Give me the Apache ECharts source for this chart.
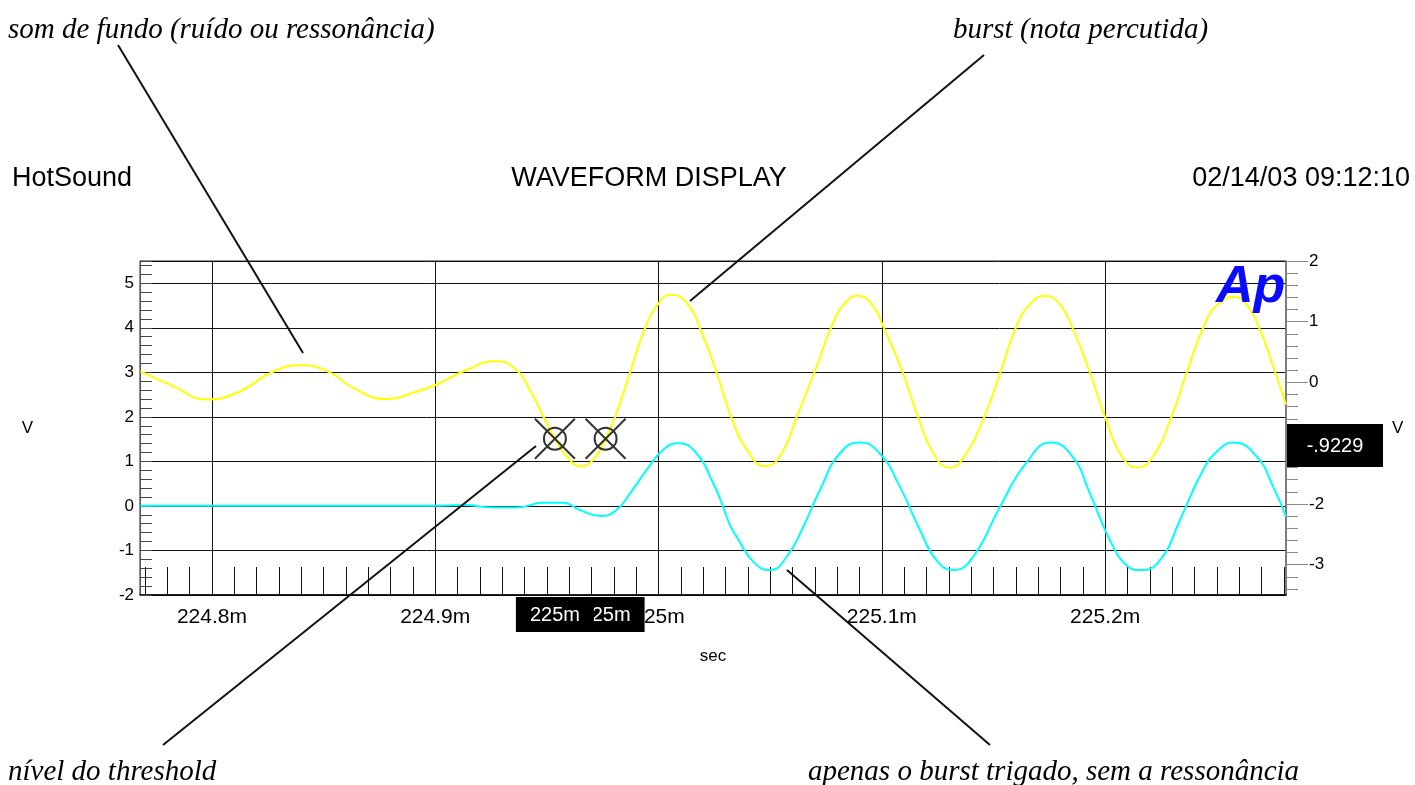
<!DOCTYPE html>
<html>
<head>
<meta charset="utf-8">
<title>Waveform display</title>
<script src="https://cdn.jsdelivr.net/npm/echarts@6/dist/echarts.min.js"></script>
<style>
html, body { margin: 0; padding: 0; background: #fff; }
#chart { width: 1415px; height: 785px; }
</style>
</head>
<body>
<div id="chart"></div>
<script>
// channel A (yellow, left axis): time in ms, volts
var timeA = [224.768, 224.7827, 224.7976, 224.8125, 224.8267, 224.8402, 224.8528, 224.8633, 224.8782, 224.8901,
    224.9021, 224.9125, 224.9275, 224.9357, 224.9424, 224.9491, 224.9536, 224.9588, 224.9651, 224.9708,
    224.9763, 224.9812, 224.9872, 224.9931, 224.9991, 225.0054, 225.0126, 225.0200, 225.0260, 225.0335,
    225.0395, 225.0476, 225.0544, 225.0626, 225.0708, 225.0782, 225.0842, 225.0894, 225.0962, 225.1006,
    225.1089, 225.1156, 225.1230, 225.1305, 225.1365, 225.1454, 225.1529, 225.1604, 225.1663, 225.1730,
    225.1798, 225.1857, 225.1932, 225.2004, 225.2074, 225.2144, 225.2215, 225.2298, 225.2365, 225.2455,
    225.2514, 225.2574, 225.2634, 225.2693, 225.2753, 225.2810];
var voltsA = [3.02, 2.69, 2.39, 2.57, 3.00, 3.16, 3.00, 2.65, 2.40, 2.54,
    2.76, 3.02, 3.25, 3.08, 2.61, 1.94, 1.51, 1.12, 0.89, 1.04,
    1.51, 2.09, 2.99, 3.88, 4.48, 4.74, 4.56, 3.81, 2.99, 1.87,
    1.27, 0.89, 1.12, 2.09, 3.13, 4.11, 4.59, 4.72, 4.48, 4.03,
    3.06, 2.09, 1.19, 0.86, 1.08, 1.94, 2.97, 4.05, 4.52, 4.72,
    4.52, 3.96, 2.99, 1.94, 1.12, 0.86, 1.12, 2.01, 2.99, 4.18,
    4.56, 4.69, 4.52, 3.96, 3.13, 2.28];

// channel B (cyan, right axis)
var timeB = [224.768, 224.817, 224.8618, 224.8976, 224.9125, 224.9260, 224.9365, 224.9484, 224.9573, 224.9648,
    224.9741, 224.9812, 224.9872, 224.9947, 225.0021, 225.0088, 225.0171, 225.0245, 225.0275, 225.0320,
    225.0350, 225.0424, 225.0499, 225.0574, 225.0648, 225.0723, 225.0812, 225.0902, 225.0991, 225.1081,
    225.1171, 225.1245, 225.1320, 225.1409, 225.1529, 225.1646, 225.1757, 225.1854, 225.1932, 225.2022,
    225.2096, 225.2159, 225.2245, 225.2335, 225.2439, 225.2514, 225.2574, 225.2679, 225.2753, 225.2810];
var voltsB = [-2.03, -2.03, -2.03, -2.03, -2.02, -2.06, -2.06, -1.98, -1.98, -2.10,
    -2.20, -2.10, -1.83, -1.44, -1.11, -1.00, -1.17, -1.66, -1.91, -2.35,
    -2.54, -2.95, -3.09, -2.87, -2.38, -1.77, -1.17, -0.99, -1.17, -1.72,
    -2.43, -2.93, -3.09, -2.87, -2.05, -1.33, -0.99, -1.22, -1.83, -2.60,
    -3.01, -3.09, -2.93, -2.27, -1.44, -1.09, -0.99, -1.22, -1.72, -2.21];

// trigger cursors
var cursorTime = [224.9536, 224.9763];
var cursorLevel = 1.51;
var readout = '-.9229';

var xMin = 224.7678, xMax = 225.281;
var xMajorTicks = [224.8, 224.9, 225.0, 225.1, 225.2];
var rightMajorTicks = [-3, -2, -1, 0, 1, 2];

var xMinorTicks = [];
for (var k = 22477; k <= 22528; k++) { xMinorTicks.push(k / 100); }
var rightMinorTicks = [];
for (var j = -17; j <= 9; j++) { rightMinorTicks.push(j / 5); }

var sans = '"Liberation Sans", Arial, sans-serif';
var serif = '"Liberation Serif", "Times New Roman", serif';

function pairs(xs, ys) {
    return xs.map(function (x, i) { return [x, ys[i]]; });
}

var chart = echarts.init(document.getElementById('chart'));

var option = {
    animation: false,
    backgroundColor: '#fff',
    grid: {
        left: 140, top: 261, width: 1146, height: 334,
        show: true, borderColor: '#222', borderWidth: 1, backgroundColor: 'transparent'
    },
    xAxis: [
        {
            type: 'value', min: xMin, max: xMax, position: 'bottom',
            name: 'sec', nameLocation: 'middle', nameGap: 53,
            nameTextStyle: { fontFamily: sans, fontSize: 17, color: '#000' },
            axisLine: { show: true, onZero: false, lineStyle: { color: '#000', width: 1.5 } },
            axisTick: { show: true, inside: true, length: 28, customValues: xMajorTicks, lineStyle: { color: '#111' } },
            axisLabel: {
                customValues: xMajorTicks, margin: 12, fontFamily: sans, fontSize: 21, color: '#000',
                formatter: function (v) { return (Math.round(v * 10) / 10) + 'm'; }
            },
            splitLine: { show: true, lineStyle: { color: '#111', width: 1 } }
        },
        {
            type: 'value', min: xMin, max: xMax, position: 'bottom', offset: 0,
            axisLine: { show: false, onZero: false },
            axisLabel: { show: false },
            splitLine: { show: false },
            axisTick: { show: true, inside: true, length: 28, customValues: xMinorTicks, lineStyle: { color: '#111' } }
        }
    ],
    yAxis: [
        {
            type: 'value', min: -2, max: 5.5, interval: 1, position: 'left',
            name: 'V', nameLocation: 'middle', nameRotate: 0, nameGap: 107,
            nameTextStyle: { fontFamily: sans, fontSize: 17, color: '#000' },
            axisLine: { show: true, onZero: false, lineStyle: { color: '#555' } },
            axisTick: { show: false },
            axisLabel: {
                margin: 6, fontFamily: sans, fontSize: 17, color: '#000',
                formatter: function (v) { return v > 5 ? '' : String(v); }
            },
            splitLine: { show: true, lineStyle: { color: '#111', width: 1 } }
        },
        {
            type: 'value', min: -3.5, max: 2, position: 'right',
            name: 'V', nameLocation: 'middle', nameRotate: 0, nameGap: 106,
            nameTextStyle: { fontFamily: sans, fontSize: 17, color: '#000' },
            axisLine: { show: true, onZero: false, lineStyle: { color: '#777', width: 1.5 } },
            axisTick: { show: true, length: 22, customValues: rightMajorTicks, lineStyle: { color: '#888' } },
            axisLabel: { customValues: rightMajorTicks, margin: 23, fontFamily: sans, fontSize: 17, color: '#000' },
            splitLine: { show: false }
        },
        {
            type: 'value', min: -2, max: 5.5, interval: 0.2, position: 'left', offset: 0,
            axisLine: { show: false, onZero: false },
            axisLabel: { show: false },
            splitLine: { show: false },
            axisTick: { show: true, inside: true, length: 12, lineStyle: { color: '#444' } }
        },
        {
            type: 'value', min: -3.5, max: 2, position: 'right', offset: 0,
            axisLine: { show: false, onZero: false },
            axisLabel: { show: false },
            splitLine: { show: false },
            axisTick: { show: true, length: 12, customValues: rightMinorTicks, lineStyle: { color: '#888' } }
        }
    ],
    series: [
        {
            name: 'A', type: 'line', xAxisIndex: 0, yAxisIndex: 0,
            data: pairs(timeA, voltsA), smooth: true, showSymbol: false, z: 3,
            lineStyle: { color: '#ffff00', width: 2 }, itemStyle: { color: '#ffff00' }
        },
        {
            name: 'B', type: 'line', xAxisIndex: 0, yAxisIndex: 1,
            data: pairs(timeB, voltsB), smooth: true, showSymbol: false, z: 3,
            lineStyle: { color: '#00ffff', width: 2 }, itemStyle: { color: '#00ffff' }
        },
        {
            name: 'cursors', type: 'scatter', xAxisIndex: 0, yAxisIndex: 0,
            data: cursorTime.map(function (t) { return [t, cursorLevel]; }),
            symbol: 'path://M0,0 L40,40 M40,0 L0,40 M31,20 A11,11 0 1 1 9,20 A11,11 0 1 1 31,20 Z',
            symbolSize: 40, z: 5, silent: true,
            itemStyle: { color: 'rgba(0,0,0,0)', borderColor: '#000', borderWidth: 2 }
        }
    ]
};
chart.setOption(option);

// texts, logo, readout and annotation arrows
var gfx = [
    { type: 'text', x: 12, y: 179, z: 50, style: { text: 'HotSound', font: '27px ' + sans, fill: '#000', verticalAlign: 'middle' } },
    { type: 'text', x: 649, y: 179, z: 50, style: { text: 'WAVEFORM DISPLAY', font: '27px ' + sans, fill: '#000', align: 'center', verticalAlign: 'middle' } },
    { type: 'text', x: 1410, y: 179, z: 50, style: { text: '02/14/03 09:12:10', font: '27px ' + sans, fill: '#000', align: 'right', verticalAlign: 'middle' } },
    { type: 'text', x: 1216, y: 288, z: 60, style: { text: 'Ap', font: 'italic bold 52px ' + sans, fill: '#0a0aff', verticalAlign: 'middle' } },
    { type: 'rect', z: 60, shape: { x: 1287, y: 424, width: 96, height: 43 }, style: { fill: '#000' } },
    { type: 'text', x: 1335, y: 446, z: 61, style: { text: readout, font: '20px ' + sans, fill: '#fff', align: 'center', verticalAlign: 'middle' } },
    { type: 'text', x: 8, y: 30, z: 50, style: { text: 'som de fundo (ruído ou ressonância)', font: 'italic 29px ' + serif, fill: '#000', verticalAlign: 'middle' } },
    { type: 'text', x: 953, y: 30, z: 50, style: { text: 'burst (nota percutida)', font: 'italic 29px ' + serif, fill: '#000', verticalAlign: 'middle' } },
    { type: 'text', x: 8, y: 772, z: 50, style: { text: 'nível do threshold', font: 'italic 29px ' + serif, fill: '#000', verticalAlign: 'middle' } },
    { type: 'text', x: 808, y: 772, z: 50, style: { text: 'apenas o burst trigado, sem a ressonância', font: 'italic 29px ' + serif, fill: '#000', verticalAlign: 'middle' } },
    { type: 'line', z: 70, shape: { x1: 118, y1: 45, x2: 303, y2: 353 }, style: { stroke: '#111', lineWidth: 2 } },
    { type: 'line', z: 70, shape: { x1: 984, y1: 55, x2: 690, y2: 301 }, style: { stroke: '#111', lineWidth: 2 } },
    { type: 'line', z: 70, shape: { x1: 163, y1: 745, x2: 536, y2: 446 }, style: { stroke: '#111', lineWidth: 2 } },
    { type: 'line', z: 70, shape: { x1: 990, y1: 745, x2: 787, y2: 570 }, style: { stroke: '#111', lineWidth: 2 } }
];

// cursor time boxes under the x axis, first cursor drawn on top
var axisY = chart.convertToPixel({ yAxisIndex: 0 }, -2);
var zz = 80;
for (var i = cursorTime.length - 1; i >= 0; i--) {
    var px = chart.convertToPixel({ xAxisIndex: 0 }, cursorTime[i]);
    gfx.push({ type: 'rect', z: zz++, shape: { x: px - 39, y: axisY + 2, width: 78, height: 35 }, style: { fill: '#000' } });
    gfx.push({ type: 'text', z: zz++, x: px, y: axisY + 20, style: { text: Math.round(cursorTime[i]) + 'm', font: '20px ' + sans, fill: '#fff', align: 'center', verticalAlign: 'middle' } });
}
chart.setOption({ graphic: gfx });
</script>
</body>
</html>
